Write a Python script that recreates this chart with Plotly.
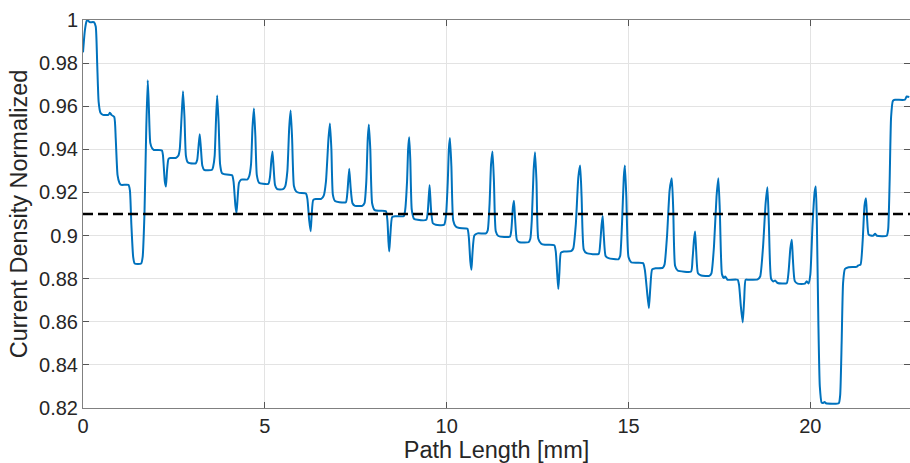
import plotly.graph_objects as go

# Normalized current density sampled along the conductor path
path_mm = [
    0.00, 0.05, 0.10, 0.13, 0.18, 0.30, 0.35, 0.39, 0.43, 0.48, 0.55, 0.70, 0.74, 0.78, 0.86, 0.90,
    0.95, 1.00, 1.05, 1.25, 1.29, 1.33, 1.38, 1.42, 1.60, 1.64, 1.69, 1.74, 1.78, 1.81, 1.85, 1.90,
    1.95, 2.17, 2.20, 2.25, 2.28, 2.31, 2.35, 2.40, 2.55, 2.62, 2.66, 2.71, 2.75, 2.79, 2.83, 2.88,
    2.95, 3.10, 3.14, 3.18, 3.21, 3.24, 3.28, 3.33, 3.55, 3.58, 3.62, 3.66, 3.69, 3.73, 3.77, 3.82,
    3.88, 4.10, 4.14, 4.19, 4.22, 4.25, 4.29, 4.35, 4.52, 4.57, 4.62, 4.66, 4.70, 4.74, 4.78, 4.84,
    4.95, 5.10, 5.14, 5.18, 5.21, 5.24, 5.28, 5.34, 5.50, 5.56, 5.62, 5.67, 5.71, 5.75, 5.80, 5.86,
    5.95, 6.13, 6.17, 6.22, 6.26, 6.29, 6.33, 6.40, 6.55, 6.62, 6.68, 6.75, 6.79, 6.83, 6.87, 6.93,
    7.05, 7.23, 7.27, 7.32, 7.36, 7.41, 7.48, 7.68, 7.74, 7.79, 7.83, 7.86, 7.90, 7.95, 8.02, 8.15,
    8.33, 8.37, 8.40, 8.42, 8.45, 8.50, 8.58, 8.82, 8.86, 8.91, 8.94, 8.97, 9.00, 9.04, 9.10, 9.20,
    9.44, 9.48, 9.53, 9.57, 9.62, 9.70, 9.93, 9.98, 10.03, 10.06, 10.09, 10.13, 10.18, 10.25, 10.35,
    10.57, 10.61, 10.65, 10.68, 10.71, 10.76, 10.85, 11.08, 11.13, 11.18, 11.22, 11.26, 11.30, 11.35,
    11.42, 11.74, 11.78, 11.82, 11.85, 11.88, 11.93, 12.00, 12.25, 12.30, 12.34, 12.39, 12.43, 12.47,
    12.52, 12.60, 12.70, 12.96, 13.00, 13.04, 13.07, 13.10, 13.14, 13.22, 13.42, 13.48, 13.55, 13.62,
    13.67, 13.71, 13.77, 13.85, 14.18, 14.22, 14.26, 14.29, 14.32, 14.37, 14.45, 14.72, 14.77, 14.82,
    14.87, 14.90, 14.94, 15.00, 15.08, 15.40, 15.45, 15.51, 15.56, 15.60, 15.65, 15.75, 15.94, 15.99,
    16.06, 16.13, 16.19, 16.23, 16.28, 16.35, 16.72, 16.76, 16.80, 16.83, 16.86, 16.91, 17.00, 17.22,
    17.28, 17.35, 17.42, 17.47, 17.51, 17.57, 17.62, 17.66, 17.72, 18.00, 18.04, 18.09, 18.14, 18.18,
    18.22, 18.30, 18.55, 18.62, 18.70, 18.77, 18.82, 18.86, 18.92, 18.98, 19.03, 19.10, 19.35, 19.40,
    19.45, 19.49, 19.52, 19.57, 19.65, 19.85, 19.90, 19.95, 20.00, 20.06, 20.12, 20.15, 20.18, 20.22,
    20.26, 20.31, 20.35, 20.39, 20.43, 20.78, 20.82, 20.86, 20.90, 20.95, 21.05, 21.27, 21.32, 21.38,
    21.44, 21.49, 21.53, 21.56, 21.60, 21.66, 21.73, 21.78, 21.83, 22.10, 22.14, 22.18, 22.22, 22.27,
    22.33, 22.60, 22.65, 22.72,
]
density_norm = [
    0.985, 0.995, 0.9995, 1.000, 0.999, 0.999, 0.997, 0.980, 0.962, 0.957, 0.956, 0.956, 0.957, 0.956, 0.955, 0.945,
    0.928, 0.9245, 0.9235, 0.9235, 0.921, 0.905, 0.890, 0.887, 0.887, 0.890, 0.910, 0.950, 0.972, 0.960, 0.943, 0.9405,
    0.9397, 0.9395, 0.937, 0.925, 0.9227, 0.930, 0.9355, 0.936, 0.936, 0.937, 0.940, 0.955, 0.967, 0.955, 0.937, 0.934,
    0.9335, 0.9335, 0.935, 0.942, 0.947, 0.941, 0.9325, 0.9305, 0.9305, 0.932, 0.937, 0.955, 0.965, 0.952, 0.933, 0.929,
    0.9285, 0.928, 0.925, 0.914, 0.9104, 0.917, 0.9245, 0.926, 0.926, 0.9275, 0.933, 0.950, 0.959, 0.946, 0.928, 0.9245,
    0.924, 0.924, 0.927, 0.935, 0.939, 0.932, 0.9235, 0.9215, 0.9215, 0.9228, 0.930, 0.950, 0.958, 0.945, 0.923, 0.9205,
    0.9198, 0.9195, 0.917, 0.907, 0.902, 0.910, 0.9165, 0.917, 0.917, 0.9185, 0.925, 0.945, 0.952, 0.940, 0.919, 0.916,
    0.9155, 0.9155, 0.920, 0.931, 0.922, 0.915, 0.9138, 0.9138, 0.915, 0.925, 0.945, 0.9515, 0.940, 0.915, 0.9118, 0.9115,
    0.9113, 0.907, 0.897, 0.8926, 0.900, 0.9085, 0.909, 0.909, 0.912, 0.925, 0.940, 0.9456, 0.935, 0.912, 0.9078, 0.9073,
    0.9073, 0.911, 0.9235, 0.912, 0.9057, 0.905, 0.905, 0.909, 0.925, 0.940, 0.9452, 0.932, 0.907, 0.9042, 0.9035,
    0.9032, 0.899, 0.888, 0.8841, 0.892, 0.900, 0.901, 0.901, 0.9025, 0.915, 0.933, 0.939, 0.925, 0.902,
    0.8998, 0.8995, 0.903, 0.913, 0.9162, 0.908, 0.898, 0.8969, 0.8969, 0.8985, 0.907, 0.930, 0.9387, 0.925,
    0.8985, 0.8962, 0.8957, 0.8955, 0.8925, 0.882, 0.8752, 0.883, 0.892, 0.8926, 0.8928, 0.894, 0.905, 0.927,
    0.9325, 0.918, 0.8935, 0.8918, 0.8915, 0.896, 0.905, 0.9091, 0.900, 0.8905, 0.8895, 0.889, 0.8905, 0.905,
    0.927, 0.9325, 0.918, 0.890, 0.8875, 0.8872, 0.884, 0.874, 0.8663, 0.876, 0.8843, 0.8848, 0.885, 0.8865,
    0.900, 0.921, 0.9266, 0.912, 0.886, 0.8838, 0.8833, 0.889, 0.898, 0.9019, 0.893, 0.8825, 0.8815, 0.8813,
    0.8825, 0.895, 0.918, 0.9266, 0.912, 0.882, 0.8803, 0.881, 0.8795, 0.8795, 0.877, 0.867, 0.8597, 0.870,
    0.8795, 0.8795, 0.8797, 0.881, 0.895, 0.915, 0.9224, 0.905, 0.880, 0.8787, 0.8792, 0.878, 0.8779, 0.883,
    0.894, 0.898, 0.889, 0.879, 0.8777, 0.8777, 0.8788, 0.8778, 0.882, 0.905, 0.9205, 0.9227, 0.905, 0.860,
    0.830, 0.8225, 0.8223, 0.8228, 0.8222, 0.8222, 0.826, 0.850, 0.878, 0.8845, 0.8853, 0.8855, 0.8862, 0.8865,
    0.898, 0.914, 0.9173, 0.908, 0.9005, 0.9000, 0.9000, 0.9008, 0.8999, 0.8999, 0.903, 0.925, 0.955, 0.9625,
    0.963, 0.963, 0.9645, 0.9643,
]

# Reference level drawn as a dashed line across the whole path
threshold = 0.91

x_ticks = [0, 5, 10, 15, 20]
y_ticks = [0.82, 0.84, 0.86, 0.88, 0.90, 0.92, 0.94, 0.96, 0.98, 1.00]
y_tick_text = ["0.82", "0.84", "0.86", "0.88", "0.9", "0.92", "0.94", "0.96", "0.98", "1"]
x_range = [0, 22.74]

font_family = "Liberation Sans, Arial, sans-serif"

fig = go.Figure()
fig.add_trace(go.Scatter(
    x=path_mm, y=density_norm, mode="lines",
    line=dict(color="#0072BD", width=2, shape="spline", smoothing=0.5),
    showlegend=False, hoverinfo="x+y",
))
fig.add_trace(go.Scatter(
    x=x_range, y=[threshold, threshold], mode="lines",
    line=dict(color="#000000", width=2.5, dash="10px,5px"),
    showlegend=False, hoverinfo="skip",
))

axis_common = dict(
    showgrid=True, gridcolor="#E3E3E3", gridwidth=1,
    showline=True, linecolor="#808080", linewidth=1, mirror="ticks",
    ticks="inside", ticklen=6, tickcolor="#555555", tickwidth=1,
    zeroline=False,
    tickfont=dict(family=font_family, size=20, color="#262626"),
)

fig.update_layout(
    width=910, height=463,
    margin=dict(l=83, r=0, t=20, b=55),
    paper_bgcolor="white", plot_bgcolor="white",
    xaxis=dict(
        range=x_range, tickvals=x_ticks,
        title=dict(text="Path Length [mm]", standoff=5,
                   font=dict(family=font_family, size=23.5, color="#262626")),
        **axis_common,
    ),
    yaxis=dict(
        range=[0.82, 1.0], tickvals=y_ticks, ticktext=y_tick_text,
        title=dict(text="Current Density Normalized", standoff=4,
                   font=dict(family=font_family, size=23.5, color="#262626")),
        **axis_common,
    ),
)

fig.write_html("out.html")
